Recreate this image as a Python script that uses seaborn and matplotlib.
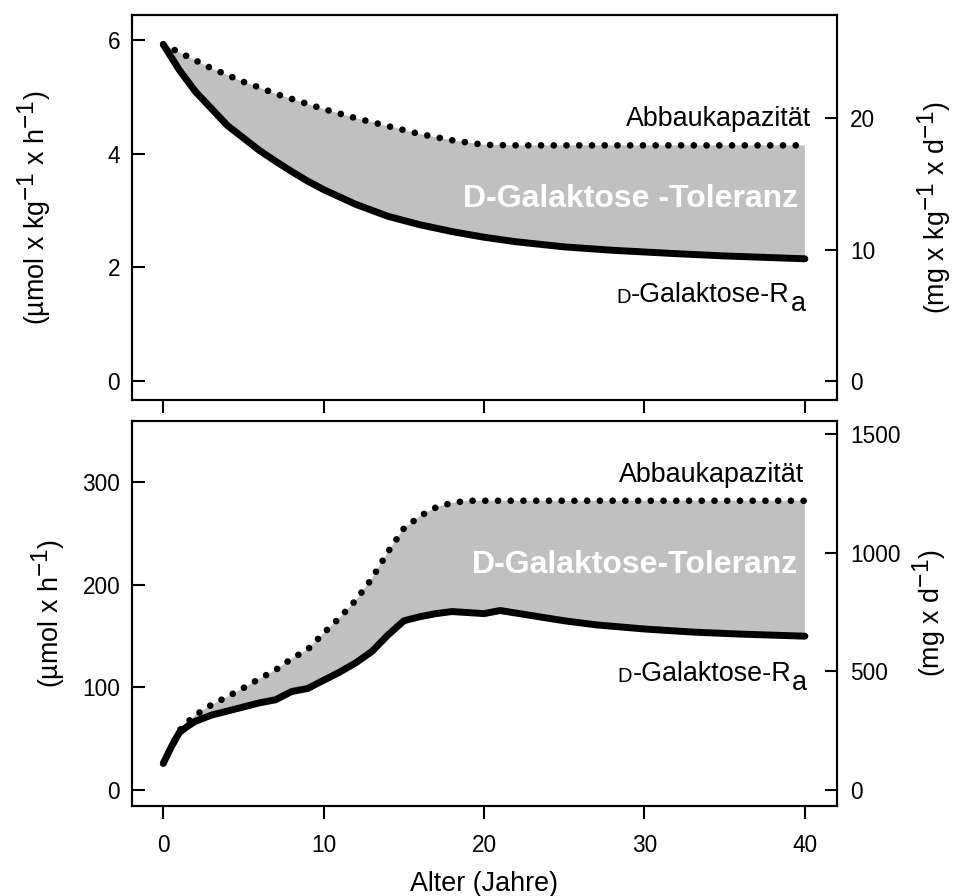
import numpy as np
import matplotlib
matplotlib.use("Agg")
import matplotlib.pyplot as plt
import seaborn as sns

try:
    import matplotlib._mathtext as _mt
    _mt.SHRINK_FACTOR = 0.9
except Exception:
    pass

# ---------------- data ----------------
# top panel: per body weight (µmol x kg-1 x h-1)
age_top_ra = [0, 1, 2, 3, 4, 5, 6, 7, 8, 9, 10, 12, 14, 16, 18, 20, 22, 25, 28, 30, 32, 35, 38, 40]
ra_top = [5.93, 5.48, 5.10, 4.80, 4.50, 4.28, 4.06, 3.87, 3.69, 3.52, 3.37, 3.11, 2.90, 2.75,
          2.63, 2.53, 2.45, 2.36, 2.30, 2.27, 2.24, 2.20, 2.17, 2.15]
age_top_cap = [0, 1, 2, 3, 4, 5, 6, 7, 8, 9, 10, 12, 14, 16, 18, 20, 22, 25, 30, 35, 40]
cap_top = [5.93, 5.79, 5.65, 5.51, 5.39, 5.27, 5.17, 5.06, 4.97, 4.88, 4.79, 4.63, 4.49, 4.35,
           4.24, 4.16, 4.15, 4.15, 4.15, 4.15, 4.15]

# bottom panel: absolute (µmol x h-1)
age_bot_ra = [0, 0.5, 1, 1.5, 2, 3, 4, 5, 6, 7, 8, 9, 10, 11, 12, 13, 14, 15, 16, 17, 18, 19,
              20, 21, 23, 25, 27, 30, 33, 36, 40]
ra_bot = [26, 42, 56, 62, 67, 73, 77, 81, 85, 88, 96, 99, 107, 115, 124, 135, 151, 165, 169,
          172, 174, 173, 172, 175, 170, 165, 161, 157, 154, 152, 150]
age_bot_cap = [0, 1, 1.5, 2, 3, 4, 5, 6, 7, 8, 9, 10, 11, 12, 13, 14, 15, 16, 17, 18, 19, 20,
               25, 30, 35, 40]
cap_bot = [26, 58, 66, 73, 83, 91, 99.5, 108.5, 117, 128, 137, 153, 168, 185, 206, 232, 255,
           267, 275.5, 280, 282, 282, 282, 282, 282, 282]

x_ticks = [0, 10, 20, 30, 40]
top_left_ticks = [0, 2, 4, 6]
top_right_ticks = [0, 10, 20]
bot_left_ticks = [0, 100, 200, 300]
bot_right_ticks = [0, 500, 1000, 1500]

# µmol/h -> mg/d for D-galactose (M = 180.16 g/mol)
UMOL_H_TO_MG_D = 180.16 * 24 / 1000

# ---------------- style ----------------
sns.set_style("ticks", rc={"axes.edgecolor": "black", "text.color": "black",
                           "xtick.color": "black", "ytick.color": "black",
                           "axes.labelcolor": "black"})
plt.rcParams["font.family"] = ["Liberation Sans", "DejaVu Sans"]
plt.rcParams["mathtext.fontset"] = "custom"
plt.rcParams["mathtext.rm"] = "Liberation Sans"
plt.rcParams["mathtext.it"] = "Liberation Sans:italic"
plt.rcParams["mathtext.bf"] = "Liberation Sans:bold"
plt.rcParams["mathtext.default"] = "regular"
plt.rcParams["axes.linewidth"] = 1.5

FS_TICK = 16.3
FS_LAB = 19.4
FS_BOLD = 23.0
LW = 5.0
LW_DOT = 4.8
GRAY = "#c0c0c0"

fig = plt.figure(figsize=(9.55, 8.96), dpi=100)
ax_top = fig.add_axes([0.1382, 0.5536, 0.7382, 0.4297])
ax_bot = fig.add_axes([0.1382, 0.1004, 0.7382, 0.4300])


def draw_panel(ax, age_ra, ra, age_cap, cap, ylim, lticks, rticks, show_xlabels):
    poly_x = np.r_[np.asarray(age_cap, float), np.asarray(age_ra, float)[::-1]]
    poly_y = np.r_[np.asarray(cap, float), np.asarray(ra, float)[::-1]]
    ax.fill(poly_x, poly_y, color=GRAY, lw=0, zorder=1)
    sns.lineplot(x=age_cap, y=cap, ax=ax, color="black", lw=LW_DOT, errorbar=None,
                 linestyle=(0, (0.01, 1.9)), dash_capstyle="round", zorder=3)
    sns.lineplot(x=age_ra, y=ra, ax=ax, color="black", lw=LW, errorbar=None,
                 solid_capstyle="round", solid_joinstyle="round", zorder=4)
    ax.set_xlim(-1.95, 42.0)
    ax.set_ylim(*ylim)
    ax.set_xticks(x_ticks)
    ax.set_yticks(lticks)
    ax.set_xlabel("")
    ax.set_ylabel("")
    ax.tick_params(axis="y", direction="in", length=9.5, width=1.5, pad=8.5,
                   labelsize=FS_TICK, left=True, right=False)
    ax.tick_params(axis="x", direction="out", length=9.4, width=1.5, pad=10.5,
                   labelsize=FS_TICK, bottom=True, top=False, labelbottom=show_xlabels)
    for s in ax.spines.values():
        s.set_visible(True)
        s.set_linewidth(1.5)
    axr = ax.twinx()
    axr.set_ylim(ylim[0] * UMOL_H_TO_MG_D, ylim[1] * UMOL_H_TO_MG_D)
    axr.set_yticks(rticks)
    axr.tick_params(axis="y", direction="in", length=9, width=1.5, pad=9.5,
                    labelsize=FS_TICK, right=True, left=False)
    for s in axr.spines.values():
        s.set_linewidth(1.5)
    return axr


def ra_label(ax, x, y):
    main = ax.text(x, y, "-Galaktose-R", ha="right", va="baseline", fontsize=FS_LAB, zorder=6)
    ax.annotate("D", xy=(0, 0), xycoords=main, xytext=(-0.5, 0.9), textcoords="offset points",
                ha="right", va="bottom", fontsize=14.5, zorder=6)
    ax.annotate("a", xy=(1, 0), xycoords=main, xytext=(0.3, -6.5), textcoords="offset points",
                ha="left", va="bottom", fontsize=FS_LAB, zorder=6)


# ---------------- top panel ----------------
axr_top = draw_panel(ax_top, age_top_ra, ra_top, age_top_cap, cap_top, (-0.34, 6.45),
                     top_left_ticks, top_right_ticks, False)
ax_top.text(40.4, 4.49, "Abbaukapazität", ha="right", va="baseline", fontsize=FS_LAB, zorder=6)
ax_top.text(39.56, 3.07, "D-Galaktose -Toleranz", ha="right", va="baseline",
            fontsize=FS_BOLD, fontweight="bold", color="white", zorder=6)
ra_label(ax_top, 39.07, 1.38)
ax_top.set_ylabel(r"(µmol x kg$^{-1}$ x h$^{-1}$)", fontsize=FS_LAB)
ax_top.yaxis.set_label_coords(-0.112, 0.5)
axr_top.set_ylabel(r"(mg x kg$^{-1}$ x d$^{-1}$)", fontsize=FS_LAB)
axr_top.yaxis.set_label_coords(1.1106, 0.5)

# ---------------- bottom panel ----------------
axr_bot = draw_panel(ax_bot, age_bot_ra, ra_bot, age_bot_cap, cap_bot, (-15.6, 360),
                     bot_left_ticks, bot_right_ticks, True)
ax_bot.text(39.96, 300.5, "Abbaukapazität", ha="right", va="baseline", fontsize=FS_LAB, zorder=6)
ax_bot.text(39.58, 211.2, "D-Galaktose-Toleranz", ha="right", va="baseline",
            fontsize=FS_BOLD, fontweight="bold", color="white", zorder=6)
ra_label(ax_bot, 39.17, 106.2)
ax_bot.set_ylabel(r"(µmol x h$^{-1}$)", fontsize=FS_LAB)
ax_bot.yaxis.set_label_coords(-0.092, 0.5)
axr_bot.set_ylabel(r"(mg x d$^{-1}$)", fontsize=FS_LAB)
axr_bot.yaxis.set_label_coords(1.1035, 0.5)
ax_bot.set_xlabel("Alter (Jahre)", fontsize=19.4)
ax_bot.xaxis.set_label_coords(0.5, -0.169)

fig.savefig("out.png", dpi=100)
